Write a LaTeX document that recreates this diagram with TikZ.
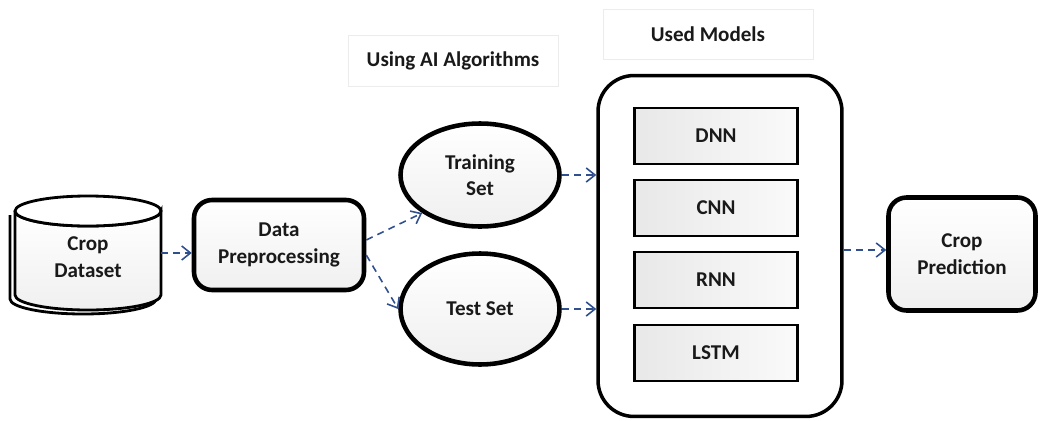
\documentclass[tikz,border=0pt]{standalone}
\usepackage{fontspec}
\setmainfont{Carlito}
\usetikzlibrary{arrows.meta,shadows,shapes.geometric}
\definecolor{arrowblue}{HTML}{2F4F8F}
\tikzset{
  txt/.style={font=\fontsize{12}{15}\selectfont\bfseries, align=center, text=black!90},
  bigline/.style={draw=black, line width=2.6pt},
  softfill/.style={top color=white, bottom color=gray!12},
  roundbox/.style={txt, bigline, softfill, rounded corners=0.36cm, inner sep=0pt},
  setell/.style={txt, ellipse, bigline, softfill, inner sep=0pt},
  modelbox/.style={txt, draw=black, line width=1.6pt, left color=gray!18, right color=gray!4, inner sep=0pt, minimum width=3.26cm, minimum height=1.12cm},
  labelbox/.style={txt, draw=gray!15, line width=0.4pt, inner sep=0pt},
  flow/.style={draw=arrowblue, line width=0.9pt, dashed, dash pattern=on 4pt off 3pt, -{Straight Barb[length=5pt,width=8pt,line width=0.9pt]}},
}
\begin{document}
\begin{tikzpicture}[x=0.02cm,y=-0.02cm]
\useasboundingbox (0,0) rectangle (1042,420);
% Cylinder (Crop Dataset)
\begin{scope}[line width=1.6pt]
  \filldraw[fill=white,shift={(-5,4)}] (15,211) -- (15,295) arc[start angle=180,end angle=360,x radius=73,y radius=-15] -- (161,211);
  \filldraw[softfill] (15,211) -- (15,295) arc[start angle=180,end angle=360,x radius=73,y radius=-15] -- (161,211) arc[start angle=0,end angle=-180,x radius=73,y radius=-15];
  \filldraw[fill=white] (88,211) ellipse[x radius=73,y radius=15];
\end{scope}
\node[txt, minimum width=2.9cm, minimum height=1.4cm] (crop) at (88,257) {Crop\\Dataset};
% Data preprocessing
\node[roundbox, minimum width=3.4cm, minimum height=1.8cm] (pre) at (279,245) {Data\\Preprocessing};
% Sets
\node[setell, minimum width=3.18cm, minimum height=2.06cm] (train) at (480,175) {Training\\Set};
\node[setell, minimum width=3.18cm, minimum height=2.22cm] (test) at (480,309) {Test Set};
% Models container
\node[draw=black, line width=2pt, fill=white, rounded corners=0.72cm, minimum width=4.88cm, minimum height=6.82cm, inner sep=0pt] (models) at (720,246) {};
\node[modelbox] (dnn) at (716,136) {DNN};
\node[modelbox] (cnn) at (716,208) {CNN};
\node[modelbox] (rnn) at (716,280) {RNN};
\node[modelbox] (lstm) at (716,353) {LSTM};
% Prediction
\node[roundbox, minimum width=2.94cm, minimum height=2.26cm] (pred) at (962,254) {Crop\\Prediction};
% Labels
\node[labelbox, minimum width=4.2cm, minimum height=1.02cm] (lab1) at (453,61) {Using AI Algorithms};
\node[labelbox, minimum width=4.2cm, minimum height=1.0cm] (lab2) at (708,34) {Used Models};
% Connectors
\draw[flow] (crop.east |- 0,253) -- (pre.west |- 0,253);
\draw[flow] (pre.east |- 0,240) -- (train.south west);
\draw[flow] (pre.east |- 0,255) -- (test.west);
\draw[flow] (train.east) -- (models.west |- train.east);
\draw[flow] (test.east) -- (models.west |- test.east);
\draw[flow] (models.east |- 0,250) -- (pred.west |- 0,250);
\end{tikzpicture}
\end{document}
